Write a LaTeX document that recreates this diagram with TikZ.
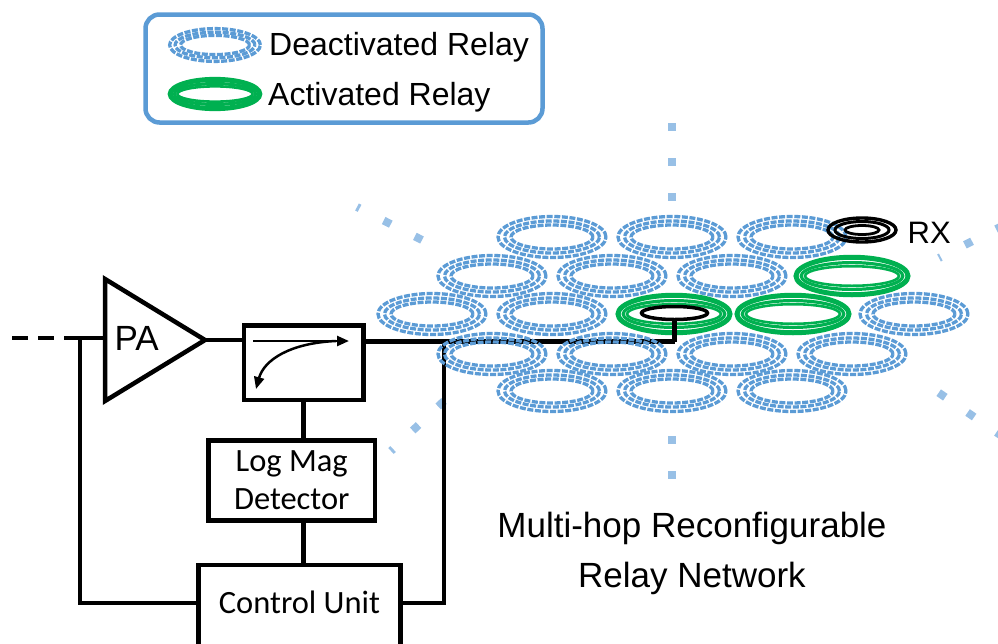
\documentclass[tikz,border=0pt]{standalone}
\usepackage{fontspec}
\setmainfont{Liberation Sans}
\newfontfamily\calib{Carlito}
\usetikzlibrary{arrows.meta,shapes.geometric}

\definecolor{relayblue}{RGB}{91,155,213}
\definecolor{raylight}{RGB}{152,192,230}
\definecolor{relaygreen}{RGB}{0,176,80}

\tikzset{
  wire/.style={line width=4.5pt},
  block/.style={draw, line width=4.5pt, rectangle, inner sep=0pt,
    align=center, font=\calib\fontsize{32.5}{38}\selectfont},
  label/.style={inner sep=0pt, anchor=base west},
  ray/.style={draw=raylight, line width=8pt, dash pattern=on 8pt off 27pt},
  offring/.style={draw=relayblue, line width=3.3pt, dash pattern=on 6pt off 1.6pt},
  relayoff/.pic={
    \draw[offring] (0,0) ellipse [x radius=54pt, y radius=20.5pt];
    \draw[offring] (0,0) ellipse [x radius=47.5pt, y radius=16pt];
    \draw[offring] (0,0) ellipse [x radius=41pt, y radius=12pt];
  },
  relayon/.pic={
    \draw[relaygreen, line width=5pt] (0,0) ellipse [x radius=56pt, y radius=18.75pt];
    \draw[relaygreen, line width=3.2pt] (0,0) ellipse [x radius=50.8pt, y radius=13.4pt];
    \draw[relaygreen, line width=2.6pt] (0,0) ellipse [x radius=47pt, y radius=9.8pt];
  },
  receiver/.pic={
    \draw[line width=3.4pt] (0,0) ellipse [x radius=34pt, y radius=12pt];
    \draw[line width=3pt] (0,0) ellipse [x radius=27pt, y radius=8.5pt];
    \draw[line width=2.8pt] (0,0) ellipse [x radius=17pt, y radius=4.5pt];
  },
}

\begin{document}
\begin{tikzpicture}[x=1pt,y=-1pt]
\useasboundingbox (0,0) rectangle (998,643);
\clip (0,0) rectangle (998,643);

% legend
\node[draw=relayblue, line width=4.5pt, rounded corners=14pt,
      minimum width=397pt, minimum height=108pt, inner sep=0pt] (legend) at (344,68.5) {};
\pic[xscale=0.84, yscale=0.8] at (215,45) {relayoff};
\pic[xscale=0.8, yscale=0.78] at (215,94) {relayon};
\node[label, font=\fontsize{32}{38}\selectfont] (offtext) at (269,55) {Deactivated Relay};
\node[label, font=\fontsize{32}{38}\selectfont] (ontext) at (268,105) {Activated Relay};

% radial guide marks around the relay field
\draw[ray] (672,123) -- (672,201);
\draw[ray] (672,436) -- (672,479);
\draw[ray] (422,240) -- (357,207);
\draw[ray] (444,401) -- (391,451);
\draw[ray, dash phase=6pt] (939,258) -- (1012,221);
\draw[ray] (938.7,392.7) -- (1012,443);

% front-end blocks
\coordinate (src) at (12,338);
\coordinate (jn) at (80,338);
\coordinate (pain) at (105,338);
\coordinate (paout) at (204,340);
\coordinate (tap) at (444,341.5);
\coordinate (corner) at (674.5,341.5);

\draw[wire, line join=miter] (105,279) -- (205,340) -- (105,401) -- cycle;
\node[label, font=\fontsize{35}{40}\selectfont] (patext) at (114.5,350) {PA};

\node[block, minimum width=119.5pt, minimum height=74.5pt] (cpl) at (303.7,362.75) {};
\node[block, minimum width=166.5pt, minimum height=80pt] (det) at (291.75,480.5) {Log Mag\\Detector};
\node[block, minimum width=202pt, minimum height=82pt, text height=20pt, text depth=5pt] (ctrl) at (299.5,606) {Control Unit};

% coupler symbol
\draw[line width=2.5pt, -{Triangle[length=12pt,width=10pt]}] (253,341) -- (349,341);
\draw[line width=2.5pt, -{Triangle[length=12pt,width=10pt]}]
  (336,341) .. controls (290,343) and (264,360) .. (256,389);

% connectors
\draw[wire, dash pattern=on 16pt off 10pt] (src) -- (jn);
\draw[wire] (jn) -- (pain);
\draw[wire] (paout) -- (paout -| cpl.west);
\draw[wire] (cpl.east |- tap) -- (tap) -- (corner);
\draw[wire] (cpl.south) -- (cpl.south |- det.north);
\draw[wire] (cpl.south |- det.south) -- (cpl.south |- ctrl.north);
\draw[wire] ([yshift=3pt]ctrl.east) -| (tap);
\draw[wire] ([yshift=3pt]ctrl.west) -| (jn);

% relay field: deactivated relays
\foreach \x in {552,672,792} \pic at (\x,237) {relayoff};
\foreach \x in {492,612,732} \pic at (\x,276) {relayoff};
\foreach \x in {432,552,914} \pic at (\x,314) {relayoff};
\foreach \x in {492,612,732,852} \pic at (\x,354) {relayoff};
\foreach \x in {552,672,792} \pic at (\x,391) {relayoff};

% activated path
\pic at (674,314) {relayon};
\pic at (793,314) {relayon};
\pic at (852,276) {relayon};

% feed loop and receiver
\node[draw, ellipse, line width=3.5pt, minimum width=66pt, minimum height=13pt, inner sep=0pt] (feed) at (674.5,313) {};
\draw[wire] (corner) -- (feed.south);
\pic at (862,230) {receiver};
\node[label, font=\fontsize{31}{36}\selectfont] (rxtext) at (907.5,243) {RX};

% caption
\node[align=center, inner sep=0pt, font=\fontsize{35}{50}\selectfont] (caption) at (692,553)
  {Multi-hop Reconfigurable\\Relay Network};
\end{tikzpicture}
\end{document}
